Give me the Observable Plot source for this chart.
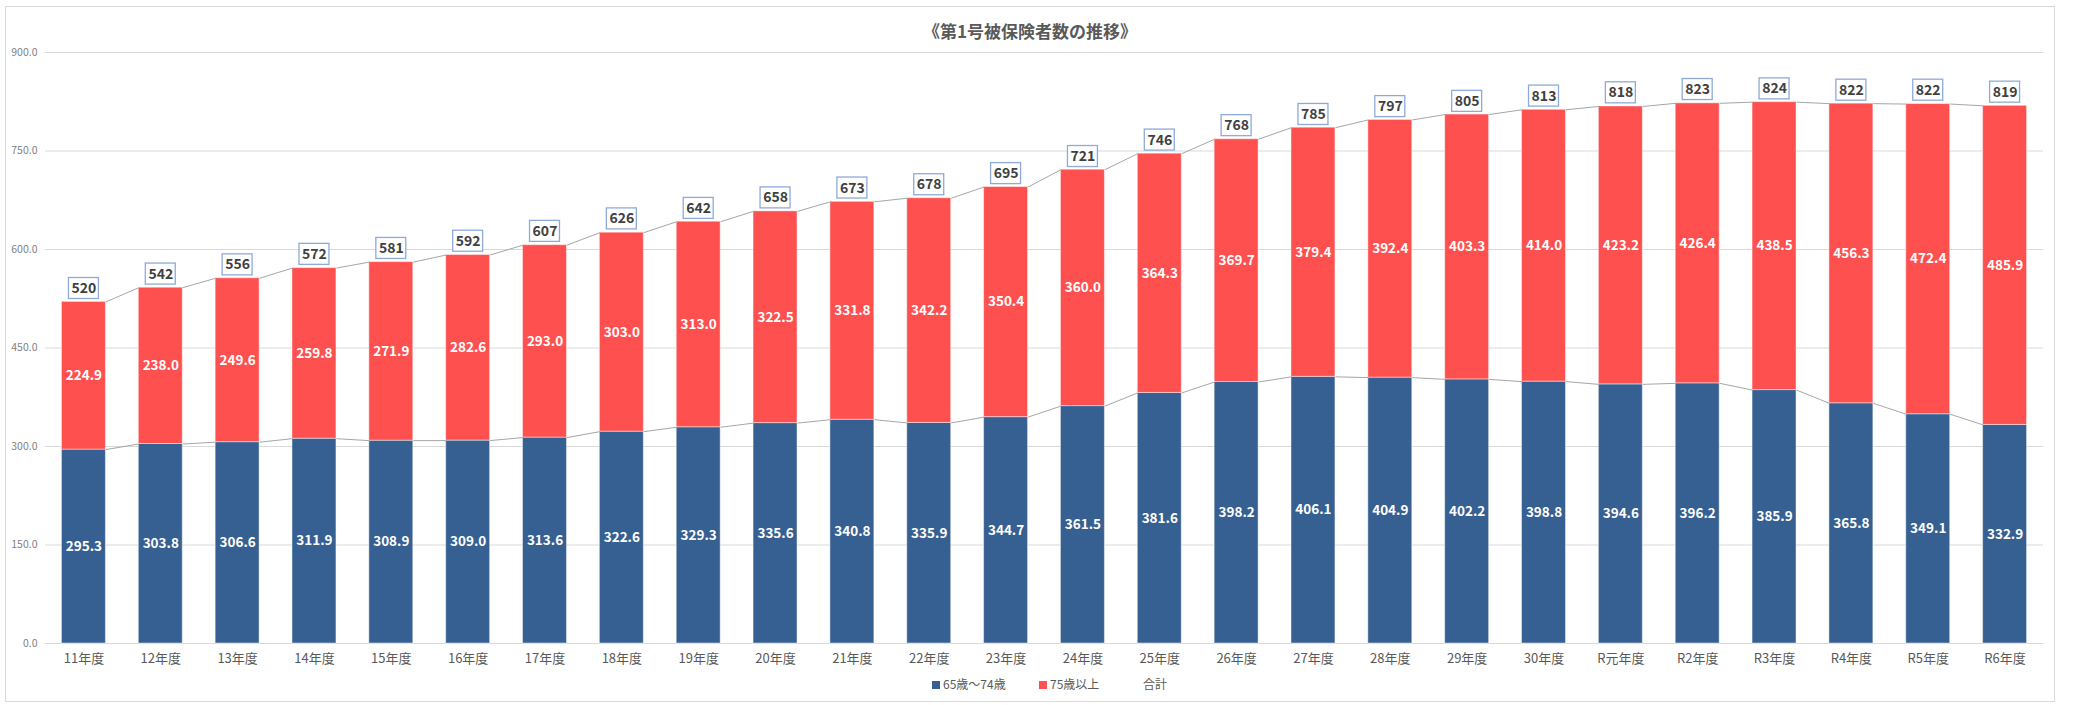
<!DOCTYPE html>
<html>
<head>
<meta charset="utf-8">
<script src="https://cdn.jsdelivr.net/npm/d3@7"></script>
<script src="https://cdn.jsdelivr.net/npm/@observablehq/plot@0.6"></script>
<style>
  html, body { margin: 0; padding: 0; background: #fff; }
  #wrap { position: relative; width: 2078px; height: 705px; font-family: "Noto Sans CJK JP", "Noto Sans", sans-serif; }
  #frame { position: absolute; left: 5px; top: 6px; width: 2048px; height: 694px; border: 1px solid #d9d9d9; }
  #title { position: absolute; left: 5px; width: 2050px; top: 19px; height: 24px; line-height: 24px; text-align: center; font-size: 17px; font-weight: bold; color: #595959; }
  #chart { position: absolute; left: 0; top: 40px; }
  #legend { position: absolute; left: 0; width: 2078px; top: 675px; height: 18px; line-height: 18px; font-size: 12px; color: #595959; }
  .item { position: absolute; top: 0; white-space: nowrap; }
  .sw { display: inline-block; width: 8px; height: 8px; margin-right: 3px; vertical-align: 0px; }
</style>
</head>
<body>
<div id="wrap">
  <div id="frame"></div>
  <div id="title">《第1号被保険者数の推移》</div>
  <div id="chart"></div>
  <div id="legend">
    <span class="item" style="left:932px"><span class="sw" style="background:#376092"></span>65歳〜74歳</span>
    <span class="item" style="left:1039px"><span class="sw" style="background:#ff5050"></span>75歳以上</span>
    <span class="item" style="left:1143px">合計</span>
  </div>
</div>
<script>
const years = ["11年度","12年度","13年度","14年度","15年度","16年度","17年度","18年度","19年度","20年度",
  "21年度","22年度","23年度","24年度","25年度","26年度","27年度","28年度","29年度","30年度",
  "R元年度","R2年度","R3年度","R4年度","R5年度","R6年度"];
const age65to74 = [295.3,303.8,306.6,311.9,308.9,309.0,313.6,322.6,329.3,335.6,
  340.8,335.9,344.7,361.5,381.6,398.2,406.1,404.9,402.2,398.8,
  394.6,396.2,385.9,365.8,349.1,332.9];
const age75plus = [224.9,238.0,249.6,259.8,271.9,282.6,293.0,303.0,313.0,322.5,
  331.8,342.2,350.4,360.0,364.3,369.7,379.4,392.4,403.3,414.0,
  423.2,426.4,438.5,456.3,472.4,485.9];
const totals = [520,542,556,572,581,592,607,626,642,658,
  673,678,695,721,746,768,785,797,805,813,
  818,823,824,822,822,819];
const yTicks = [0,150,300,450,600,750,900];

const BLUE = "#376092", RED = "#ff5050";
const hw = 0.286;          // half bar width (band units)
const boxHalf = 0.195;     // half label-box width
const boxGap = 4.6, boxH = 32; // label box offset/height (value units)

const rows = years.map((year, i) => ({
  i, year, a: age65to74[i], b: age75plus[i], top: age65to74[i] + age75plus[i], total: totals[i]
}));
const links = rows.slice(0, -1).map((d, k) => ({
  x1: d.i + hw, x2: d.i + 1 - hw,
  ya1: d.a, ya2: rows[k + 1].a,
  yt1: d.top, yt2: rows[k + 1].top
}));

const chart = Plot.plot({
  width: 2078,
  height: 640,
  marginTop: 12,
  marginBottom: 37,
  marginLeft: 45,
  marginRight: 35,
  style: { fontFamily: '"Noto Sans CJK JP", "Noto Sans", sans-serif', background: "transparent" },
  x: { domain: [-0.5, years.length - 0.5] },
  y: { domain: [0, 900] },
  marks: [
    Plot.gridY(yTicks, { stroke: "#d9d9d9", strokeOpacity: 1, strokeWidth: 1 }),
    Plot.axisY(yTicks, { tickFormat: d3.format(".1f"), tickSize: 0, tickPadding: 8, fontSize: 10.5, fill: "#7f7f7f", label: null }),
    Plot.axisX(d3.range(years.length), { tickFormat: i => years[i], tickSize: 0, tickPadding: 10, fontSize: 13, fill: "#595959", label: null }),
    Plot.rect(rows, { x1: d => d.i - hw, x2: d => d.i + hw, y1: 0, y2: "a", fill: BLUE, stroke: "#fff", strokeOpacity: 0.45, strokeWidth: 1 }),
    Plot.rect(rows, { x1: d => d.i - hw, x2: d => d.i + hw, y1: "a", y2: "top", fill: RED, stroke: "#fff", strokeOpacity: 0.45, strokeWidth: 1 }),
    Plot.link(links, { x1: "x1", x2: "x2", y1: "ya1", y2: "ya2", stroke: "#a6a6a6", strokeWidth: 1 }),
    Plot.link(links, { x1: "x1", x2: "x2", y1: "yt1", y2: "yt2", stroke: "#a6a6a6", strokeWidth: 1 }),
    Plot.rect(rows, { x1: d => d.i - boxHalf, x2: d => d.i + boxHalf, y1: d => d.total + boxGap, y2: d => d.total + boxGap + boxH, fill: "#fff", stroke: "#8eaadb", strokeWidth: 1.3 }),
    Plot.text(rows, { x: "i", y: d => d.a / 2, text: d => d.a.toFixed(1), fill: "#fff", fontWeight: "bold", fontSize: 13.5 }),
    Plot.text(rows, { x: "i", y: d => d.a + d.b / 2, text: d => d.b.toFixed(1), fill: "#fff", fontWeight: "bold", fontSize: 13.5 }),
    Plot.text(rows, { x: "i", y: d => d.total + boxGap + boxH / 2, text: d => String(d.total), fill: "#404040", fontWeight: "bold", fontSize: 14 })
  ]
});
document.getElementById("chart").appendChild(chart);
</script>
</body>
</html>
